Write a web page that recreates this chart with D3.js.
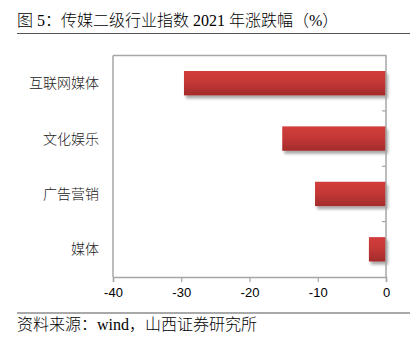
<!DOCTYPE html>
<html><head><meta charset="utf-8">
<script src="https://cdn.jsdelivr.net/npm/d3@7"></script>
<style>
html,body{margin:0;padding:0;background:#fff;}
svg{display:block;}
</style></head>
<body>
<svg id="chart" width="416" height="338"></svg>
<script>
const categories = ["互联网媒体", "文化娱乐", "广告营销", "媒体"];
const values = [-29.6, -15.2, -10.4, -2.5];
const xTicks = [-40, -30, -20, -10, 0];
const titleText = "图 5：传媒二级行业指数 2021 年涨跌幅（%）";
const sourceText = "资料来源：wind，山西证券研究所";

const svg = d3.select("#chart");
const W = 416, H = 338;
const m = {left:113, right:30, top:55.5, bottom:61};
const pw = W - m.left - m.right, ph = H - m.top - m.bottom;
const fontCJK = "'Liberation Serif','Noto Sans CJK SC',serif";

const defs = svg.append("defs");
const grad = defs.append("linearGradient").attr("id","barGrad")
  .attr("x1",0).attr("y1",0).attr("x2",0).attr("y2",1);
grad.append("stop").attr("offset","0%").attr("stop-color","#d23d3b");
grad.append("stop").attr("offset","45%").attr("stop-color","#c53836");
grad.append("stop").attr("offset","100%").attr("stop-color","#a32b2b");
const filt = defs.append("filter").attr("id","shadow")
  .attr("x","-10%").attr("y","-30%").attr("width","130%").attr("height","170%");
filt.append("feGaussianBlur").attr("in","SourceAlpha").attr("stdDeviation",1.6).attr("result","b");
filt.append("feOffset").attr("in","b").attr("dx",1.5).attr("dy",2.5).attr("result","o");
filt.append("feComponentTransfer").attr("in","o").attr("result","s")
  .append("feFuncA").attr("type","linear").attr("slope",0.35);
const mg = filt.append("feMerge");
mg.append("feMergeNode").attr("in","s");
mg.append("feMergeNode").attr("in","SourceGraphic");

// title
svg.append("text").attr("x",17).attr("y",26)
  .attr("font-family",fontCJK).attr("font-size",16).attr("font-weight",300).attr("fill","#000")
  .text(titleText);
svg.append("line").attr("x1",17).attr("x2",410).attr("y1",33.5).attr("y2",33.5)
  .attr("stroke","#555").attr("stroke-width",1.2);

const x = d3.scaleLinear().domain([-40,0]).range([0,pw]);
const y = d3.scaleBand().domain(categories).range([0,ph]).paddingInner(0.56).paddingOuter(0.28);

const g = svg.append("g").attr("transform",`translate(${m.left},${m.top})`);
const axisColor = "#a6a6a6";

// frame top & left
g.append("line").attr("x1",0).attr("x2",pw+0.5).attr("y1",0).attr("y2",0)
  .attr("stroke",axisColor).attr("stroke-width",1.5);
g.append("line").attr("x1",0).attr("x2",0).attr("y1",0).attr("y2",ph)
  .attr("stroke",axisColor).attr("stroke-width",1.5);

// bars
g.selectAll("rect.bar").data(values).enter().append("rect")
  .attr("class","bar")
  .attr("x",d=>x(d)).attr("width",d=>x(0)-x(d))
  .attr("y",(d,i)=>y(categories[i])).attr("height",y.bandwidth())
  .attr("fill","url(#barGrad)").attr("filter","url(#shadow)");

// bottom axis
const xa = g.append("g").attr("transform",`translate(0,${ph})`)
  .call(d3.axisBottom(x).tickValues(xTicks).tickSize(5).tickPadding(6).tickFormat(d=>String(d)));
xa.select(".domain").attr("stroke",axisColor).attr("stroke-width",1.5);
xa.selectAll(".tick line").attr("stroke",axisColor).attr("stroke-width",1.2);
xa.selectAll(".tick text").attr("font-family","'Liberation Sans',Arial,sans-serif")
  .attr("font-size",13).attr("fill","#000");

// zero axis with separator ticks
const boundaries = categories.slice(1).map(c => y(c) - y.step()*y.paddingInner()/2);
g.append("line").attr("x1",x(0)).attr("x2",x(0)).attr("y1",0).attr("y2",ph)
  .attr("stroke",axisColor).attr("stroke-width",1.5);
g.selectAll("line.sep").data(boundaries).enter().append("line")
  .attr("class","sep").attr("x1",x(0)-4).attr("x2",x(0)).attr("y1",d=>d).attr("y2",d=>d)
  .attr("stroke",axisColor).attr("stroke-width",1.2);

// category labels
g.selectAll("text.cat").data(categories).enter().append("text")
  .attr("class","cat").attr("x",-14).attr("y",d=>y(d)+y.bandwidth()/2)
  .attr("dy","0.36em").attr("text-anchor","end")
  .attr("font-family",fontCJK).attr("font-size",14).attr("font-weight",300).attr("fill","#222")
  .text(d=>d);

// source
svg.append("line").attr("x1",17).attr("x2",410).attr("y1",313).attr("y2",313)
  .attr("stroke","#555").attr("stroke-width",1.2);
svg.append("text").attr("x",17).attr("y",330)
  .attr("font-family",fontCJK).attr("font-size",16).attr("font-weight",300).attr("fill","#000")
  .text(sourceText);
</script>
</body></html>
